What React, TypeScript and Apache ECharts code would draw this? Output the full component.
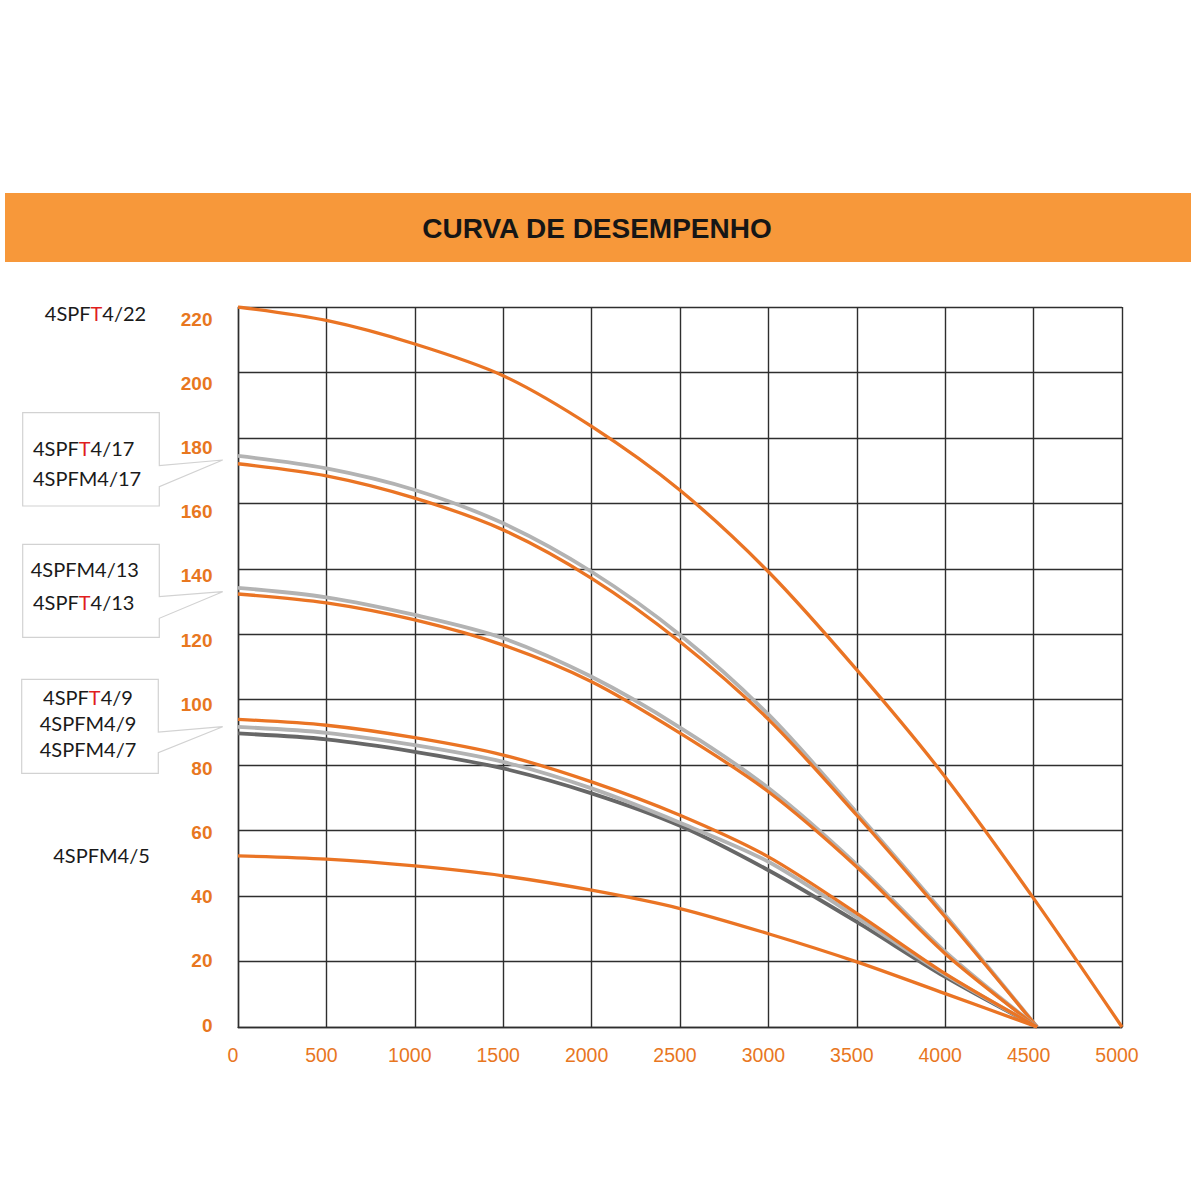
import React, { useEffect, useRef } from "react";
import * as echarts from "echarts";

// Flow (x) values
const flowStd: number[] = [0, 500, 1000, 1500, 2000, 2500, 3000, 3500, 4000, 4520];
const flow22: number[] = [0, 500, 1000, 1500, 2000, 2500, 3000, 3500, 4000, 4500, 5000];

// Head values (y) per model
const head22T: number[] = [220, 215.9, 208.7, 199, 183.5, 164, 139.1, 109.1, 76.4, 39.3, 0];
const head17T: number[] = [172.1, 168.4, 161.6, 151.9, 137.1, 117.7, 94, 64.7, 33.6, 0];
const head17M: number[] = [174.5, 170.7, 164.1, 153.9, 139.1, 119.8, 95.5, 65.5, 34.2, 0];
const head13T: number[] = [132.3, 129.6, 124.4, 116.7, 105.5, 89.8, 71.9, 48.9, 22.4, 0];
const head13M: number[] = [134.2, 131.3, 125.9, 118.8, 107, 91.5, 73, 49.6, 23, 0];
const head9T: number[] = [94, 92.2, 88.4, 83.1, 74.9, 64.7, 52, 34.7, 16.3, 0];
const head9M: number[] = [91.7, 89.9, 86.1, 81, 72.9, 62.4, 50.5, 33.5, 16, 0];
const head7M: number[] = [89.7, 87.9, 84.1, 79, 71.4, 61.5, 47.9, 32.1, 15.3, 0];
const head5M: number[] = [52.3, 51.3, 49.2, 46.2, 41.8, 36.2, 28.5, 19.9, 10.2, 0];

const yTicks: number[] = [0, 20, 40, 60, 80, 100, 120, 140, 160, 180, 200, 220];

const TITLE = "CURVA DE DESEMPENHO";

const ORANGE = "#EA7424";
const LABEL_ORANGE = "#E8771F";
const LIGHT_GRAY = "#B3B3B3";
const DARK_GRAY = "#676767";
const GRID = "#2e2e2e";

const pair = (xs: number[], ys: number[]) => ys.map((y, i) => [xs[i], y]);

const makeSeries = (name: string, xs: number[], ys: number[], color: string, width: number) => ({
  name,
  type: "line",
  data: pair(xs, ys),
  showSymbol: false,
  symbol: "none",
  smooth: 0.3,
  lineStyle: { color, width },
  xAxisIndex: 0,
  yAxisIndex: 0,
  z: 3,
});

const labelFont = "20px Lato, 'Noto Sans', sans-serif";
const rich = { r: { fill: "#E01E1E", color: "#E01E1E", font: labelFont } };

const modelText = (text: string, x: number, y: number, align: string) => ({
  type: "text",
  x,
  y,
  style: {
    text,
    font: labelFont,
    fill: "#1a1a1a",
    align,
    textAlign: align,
    verticalAlign: "middle",
    textVerticalAlign: "middle",
    rich,
  },
  z: 10,
});

const callout = (pts: number[][]) => ({
  type: "polygon",
  shape: { points: pts },
  style: { fill: "#ffffff", stroke: "#d2d2d2", lineWidth: 1.2 },
  z: 5,
});

export default function App() {
  const ref = useRef<HTMLDivElement>(null);
  useEffect(() => {
    if (!ref.current) return;
    const chart = echarts.init(ref.current, undefined, { renderer: "svg" });
    const option: any = {
      animation: false,
      backgroundColor: "#ffffff",
      grid: { left: 238, top: 307, width: 884, height: 720, containLabel: false },
      xAxis: {
        type: "value",
        min: 0,
        max: 5000,
        interval: 500,
        axisLine: { show: true, lineStyle: { color: GRID, width: 1.4 } },
        axisTick: { show: false },
        splitLine: { show: true, lineStyle: { color: GRID, width: 1.4 } },
        axisLabel: {
          color: LABEL_ORANGE,
          fontSize: 19.5,
          fontFamily: "Arial, 'Liberation Sans', sans-serif",
          margin: 18,
          padding: [0, 10, 0, 0],
          showMinLabel: true,
          showMaxLabel: true,
          formatter: (v: number) => String(v),
        },
      },
      yAxis: [
        {
          type: "value",
          min: 0,
          max: 220,
          interval: 20,
          position: "left",
          axisLine: { show: true, lineStyle: { color: GRID, width: 1.4 } },
          axisTick: { show: false },
          splitLine: { show: true, lineStyle: { color: GRID, width: 1.4 } },
          axisLabel: { show: false },
        },
        {
          type: "value",
          min: -0.62,
          max: 223.8,
          position: "left",
          axisLine: { show: false },
          axisTick: { show: false },
          splitLine: { show: false },
          axisLabel: {
            customValues: yTicks,
            color: LABEL_ORANGE,
            fontSize: 19,
            fontWeight: "bold",
            fontFamily: "Arial, 'Liberation Sans', sans-serif",
            margin: 25.5,
            formatter: (v: number) => String(v),
          },
        },
      ],
      series: [
        makeSeries("4SPFT4/22", flow22, head22T, ORANGE, 3.3),
        makeSeries("4SPFM4/17", flowStd, head17M, LIGHT_GRAY, 3.8),
        makeSeries("4SPFT4/17", flowStd, head17T, ORANGE, 3.3),
        makeSeries("4SPFM4/13", flowStd, head13M, LIGHT_GRAY, 3.8),
        makeSeries("4SPFT4/13", flowStd, head13T, ORANGE, 3.3),
        makeSeries("4SPFM4/7", flowStd, head7M, DARK_GRAY, 3.8),
        makeSeries("4SPFM4/9", flowStd, head9M, LIGHT_GRAY, 3.8),
        makeSeries("4SPFT4/9", flowStd, head9T, ORANGE, 3.3),
        makeSeries("4SPFM4/5", flowStd, head5M, ORANGE, 3.3),
      ],
      graphic: [
        {
          type: "rect",
          shape: { x: 5, y: 193, width: 1186, height: 69 },
          style: { fill: "#F7983A" },
          z: 1,
        },
        {
          type: "text",
          x: 597,
          y: 228,
          style: {
            text: TITLE,
            font: "bold 28px Arial, 'Liberation Sans', sans-serif",
            fill: "#161616",
            align: "center",
            textAlign: "center",
            verticalAlign: "middle",
            textVerticalAlign: "middle",
          },
          z: 2,
        },
        modelText("4SPF{r|T}4/22", 95.5, 313, "center"),
        callout([[22.7, 412.7], [159.3, 412.7], [159.3, 465.7], [222.7, 460], [159.3, 486.7], [159.3, 506], [22.7, 506]]),
        modelText("4SPF{r|T}4/17", 33, 448, "left"),
        modelText("4SPFM4/17", 33, 478, "left"),
        callout([[22.7, 544.3], [159.3, 544.3], [159.3, 596.7], [222.7, 591.7], [159.3, 618.3], [159.3, 637.3], [22.7, 637.3]]),
        modelText("4SPFM4/13", 30.7, 569, "left"),
        modelText("4SPF{r|T}4/13", 33, 602, "left"),
        callout([[21.7, 679.3], [158.3, 679.3], [158.3, 732], [222.7, 726.7], [158.3, 752.7], [158.3, 773.3], [21.7, 773.3]]),
        modelText("4SPF{r|T}4/9", 88, 697, "center"),
        modelText("4SPFM4/9", 88, 723, "center"),
        modelText("4SPFM4/7", 88, 749, "center"),
        modelText("4SPFM4/5", 101.5, 855, "center"),
      ],
    };
    chart.setOption(option);
    return () => chart.dispose();
  }, []);
  return (
    <div
      ref={ref}
      style={{ position: "absolute", left: 0, top: 0, width: 1200, height: 1200 }}
    />
  );
}
